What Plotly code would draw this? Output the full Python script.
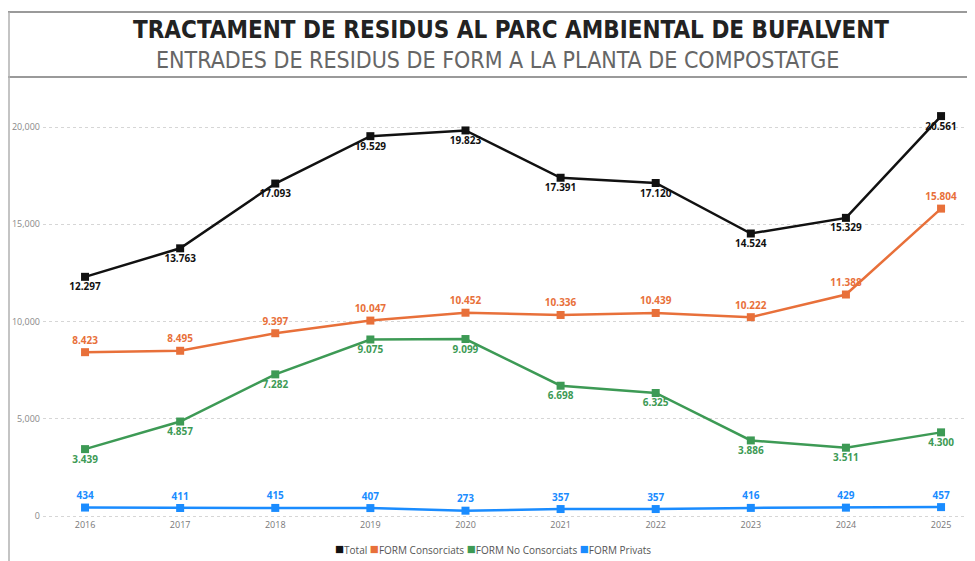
import plotly.graph_objects as go

years = [2016, 2017, 2018, 2019, 2020, 2021, 2022, 2023, 2024, 2025]
total = [12297, 13763, 17093, 19529, 19823, 17391, 17120, 14524, 15329, 20561]
consorciats = [8423, 8495, 9397, 10047, 10452, 10336, 10439, 10222, 11388, 15804]
no_consorciats = [3439, 4857, 7282, 9075, 9099, 6698, 6325, 3886, 3511, 4300]
privats = [434, 411, 415, 407, 273, 357, 357, 416, 429, 457]

series_names = ["Total", "FORM Consorciats", "FORM No Consorciats", "FORM Privats"]
y_ticks = [0, 5000, 10000, 15000, 20000]

title_text = "TRACTAMENT DE RESIDUS AL PARC AMBIENTAL DE BUFALVENT"
subtitle_text = "ENTRADES DE RESIDUS DE FORM A LA PLANTA DE COMPOSTATGE"

colors = ["#111111", "#E8703A", "#3D9A55", "#1A8CFF"]
positions = ["bottom center", "top center", "bottom center", "top center"]


def fmt(v):
    return f"{v:,}".replace(",", ".")


# page body has an 8px margin: design in screen pixels, then offset
OFF = 8
W, H = 975 - OFF, 561 - OFF
# plot area in screen pixels
SX0, SX1, SY0, SY1 = 43, 975, 85, 518
ML, MT = SX0 - OFF, SY0 - OFF
MR, MB = W - (SX1 - OFF), H - (SY1 - OFF)
PW, PH = SX1 - SX0, SY1 - SY0


def px(x):
    return (x - SX0) / PW


def py(y):
    return (SY1 - y) / PH


fig = go.Figure()
for name, vals, col, pos in zip(series_names, [total, consorciats, no_consorciats, privats], colors, positions):
    fig.add_trace(go.Scatter(
        x=years, y=vals, name=name, mode="lines+markers+text",
        line=dict(color=col, width=2.5),
        marker=dict(symbol="square", size=8, color=col),
        text=[fmt(v) for v in vals], textposition=pos,
        textfont=dict(family="Open Sans", size=10, color=col, weight="bold"),
        showlegend=False, cliponaxis=False,
    ))

legend_html = "".join(
    f"<span style='color:{c};font-size:15px'>■</span>{n}" + (" " if i < len(series_names) - 1 else "")
    for i, (n, c) in enumerate(zip(series_names, colors))
)

fig.update_layout(
    width=W, height=H,
    margin=dict(l=ML, r=MR, t=MT, b=MB, autoexpand=False),
    paper_bgcolor="white", plot_bgcolor="white",
    font=dict(family="Open Sans", color="#666"),
    showlegend=False,
    xaxis=dict(range=[2015.558, 2025.357], tickvals=years, showgrid=False, zeroline=False,
               showline=False, ticks="", tickfont=dict(size=9, color="#777")),
    yaxis=dict(range=[-103, 22160], tickvals=y_ticks, tickformat=",d", showgrid=True,
               gridcolor="#d6d6d6", griddash="dot", gridwidth=1, zeroline=False,
               showline=False, ticks="", tickfont=dict(size=9, color="#888"), ticklabelstandoff=2),
    annotations=[
        dict(text=f"<b>{title_text}</b>", x=px(511), y=py(30), xref="paper", yref="paper",
             xanchor="center", yanchor="middle", showarrow=False,
             font=dict(family="DejaVu Sans Condensed", size=24, color="#222")),
        dict(text=subtitle_text, x=px(497), y=py(60), xref="paper", yref="paper",
             xanchor="center", yanchor="middle", showarrow=False,
             font=dict(family="DejaVu Sans Condensed", size=23, color="#666")),
        dict(text=legend_html, x=px(493), y=py(548), xref="paper", yref="paper",
             xanchor="center", yanchor="middle", showarrow=False,
             font=dict(family="Open Sans", size=10, color="#555")),
    ],
    shapes=[
        dict(type="line", xref="paper", yref="paper", x0=px(0), x1=px(975), y0=py(12), y1=py(12),
             line=dict(color="#9a9a9a", width=2)),
        dict(type="line", xref="paper", yref="paper", x0=px(8), x1=px(975), y0=py(77), y1=py(77),
             line=dict(color="#9a9a9a", width=2)),
        dict(type="line", xref="paper", yref="paper", x0=px(9), x1=px(9), y0=py(12), y1=py(561),
             line=dict(color="#b0b0b0", width=1.5)),
    ],
)

fig.write_html("out.html")
